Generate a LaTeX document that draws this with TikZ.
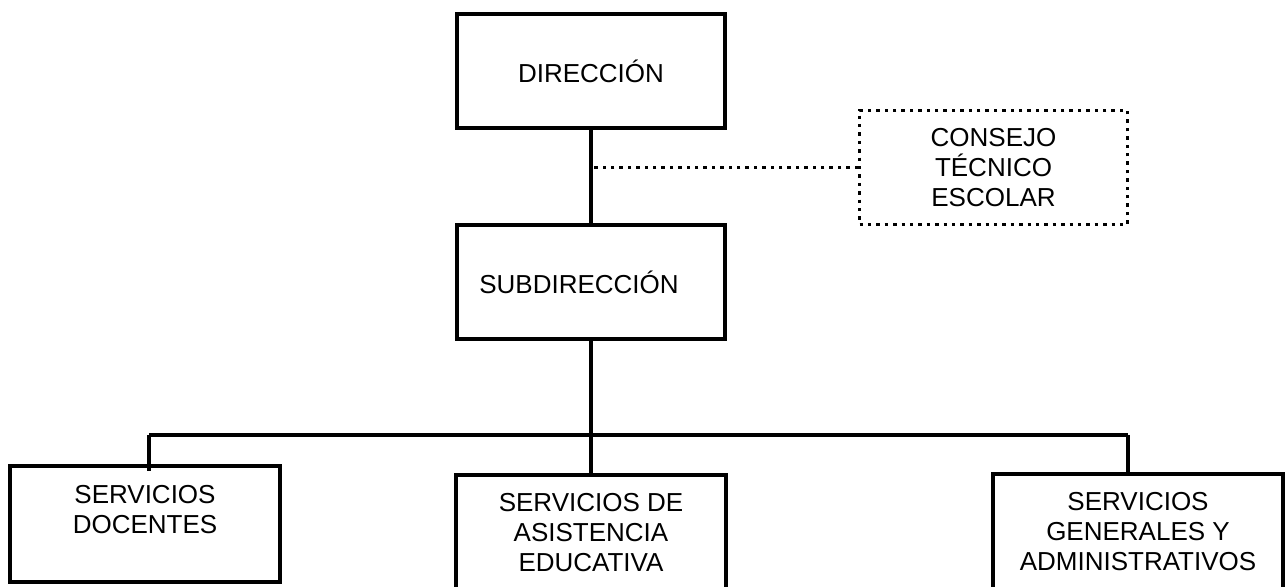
\documentclass[tikz,border=0pt]{standalone}
\usepackage{fontspec}
\setmainfont{Liberation Sans}
\usepackage{tikz}
\usetikzlibrary{positioning, calc}

\begin{document}
\begin{tikzpicture}[x=0.5pt, y=-0.5pt, every node/.style={font=\fontsize{13}{15}\selectfont}]
	\tikzstyle{unit}=[draw=black, line width=1.6pt, minimum height=57pt, minimum width=134pt, align=center, text=black, inner sep=2pt]
	\tikzstyle{unitdot}=[unit, dash pattern=on 1.7pt off 2.5pt]
	\tikzstyle{link}=[draw=black, line width=1.6pt]
	
	\useasboundingbox (0,0) rectangle (1287,587);
	
	\node [unit] (Dir) at (591,71) {DIRECCIÓN};
	\node [unit] (Sub) at (591,282) {SUBDIRECCIÓN\hspace*{12pt}};
	\node [unitdot] (CTE) at (993.5,167.5) {CONSEJO\\TÉCNICO\\ESCOLAR};
	
	\node [unit, minimum height=58pt, minimum width=135pt] (SD) at (145,524) {SERVICIOS\\DOCENTES\\~};
	\node [unit, minimum height=58pt, minimum width=135pt] (SAE) at (591,533) {SERVICIOS DE\\ASISTENCIA\\EDUCATIVA};
	\node [unit, minimum height=58pt, minimum width=145pt] (SGA) at (1138,532) {SERVICIOS\\GENERALES Y\\ADMINISTRATIVOS};
	
	%% lines
	\coordinate (jl) at (149,435);
	\coordinate (jr) at (1128,435);
	\draw [link] (Dir.south) -- (Sub.north);
	\draw [link, dash pattern=on 1.7pt off 2.5pt] (CTE.west) -- (CTE.west -| Dir.south);
	\draw [link] (Sub.south) -- (SAE.north);
	\draw [link, line width=2.2pt] (jl) -- (jr);
	\draw [link] (jl) -- ([yshift=-3.5pt]SD.north -| jl);
	\draw [link] (jr) -- (SGA.north -| jr);
\end{tikzpicture}
\end{document}
